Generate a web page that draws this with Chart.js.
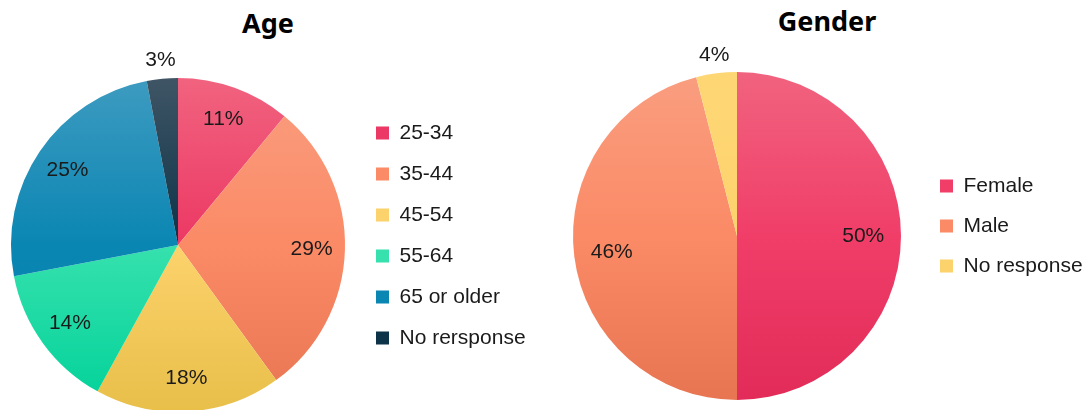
<!DOCTYPE html>
<html>
<head>
<meta charset="utf-8">
<script src="https://cdn.jsdelivr.net/npm/chart.js@4.4.1/dist/chart.umd.min.js"></script>
<style>
  html, body { margin: 0; padding: 0; background: #fff; overflow: hidden; width: 1084px; height: 410px; }
  .panel { position: absolute; top: 0; }
  .title { position: absolute; font: bold 27px "Noto Sans", sans-serif; color: #000; white-space: nowrap; transform: translateX(-50%); }
</style>
</head>
<body>
<div class="title" style="left:268px; top:4px">Age</div>
<div class="title" style="left:827px; top:2px">Gender</div>
<div class="panel" style="left:0; width:540px; height:412px"><canvas id="ageChart"></canvas></div>
<div class="panel" style="left:540px; width:544px; height:410px"><canvas id="genderChart"></canvas></div>
<script>
const ageLabels = ['25-34', '35-44', '45-54', '55-64', '65 or older', 'No rersponse'];
const ageValues = [11, 29, 18, 14, 25, 3];

const genderLabels = ['Female', 'Male', 'No response'];
const genderValues = [50, 46, 4];

// vertical shading for each slice: top / middle / bottom of the pie
const ageShadeTop = ['#f1637f', '#f99e80', '#fed775', '#4de6b9', '#3e9bc0', '#3f5565'];
const ageShadeMid = ['#ec3864', '#fb8a66', '#fcd26c', '#36e1ad', '#0a86b3', '#0d3348'];
const ageShadeBottom = ['#df2a55', '#e87552', '#e8bf49', '#00d199', '#0580ad', '#0a2c40'];

const genderShadeTop = ['#f1637f', '#f99e80', '#fed775'];
const genderShadeMid = ['#f03e69', '#fb8a66', '#fcd26c'];
const genderShadeBottom = ['#e22b58', '#e87552', '#e8bf49'];

const FONT = '"Liberation Sans", Arial, sans-serif';
const TEXT_SIZE = 21;
const BOX = 13;

function shadeFill(tops, mids, bottoms) {
  return function(c) {
    const area = c.chart.chartArea;
    const i = c.dataIndex;
    if (!area) return mids[i];
    const g = c.chart.ctx.createLinearGradient(0, area.top, 0, area.bottom);
    g.addColorStop(0, tops[i]);
    g.addColorStop(0.5, mids[i]);
    g.addColorStop(1, bottoms[i]);
    return g;
  };
}

function legendItems(mids) {
  return function(chart) {
    const items = Chart.overrides.pie.plugins.legend.labels.generateLabels(chart);
    items.forEach((it, i) => { it.fillStyle = mids[i]; it.lineWidth = 0; });
    return items;
  };
}

// width the legend box needs so its labels are not cut off
function legendWidth(labels, rowPad) {
  const c = document.createElement('canvas').getContext('2d');
  c.font = TEXT_SIZE + 'px ' + FONT;
  const textW = Math.max(...labels.map(t => c.measureText(t).width));
  return rowPad + BOX + TEXT_SIZE / 2 + textW + 10;
}

// percent text inside each slice, small ones just outside the rim
const sliceLabels = {
  id: 'sliceLabels',
  afterDatasetsDraw(chart, args, opts) {
    const ctx = chart.ctx;
    const meta = chart.getDatasetMeta(0);
    const values = chart.data.datasets[0].data;
    ctx.save();
    ctx.font = TEXT_SIZE + 'px ' + FONT;
    ctx.fillStyle = '#1a1a1a';
    ctx.textAlign = 'center';
    ctx.textBaseline = 'middle';
    meta.data.forEach((arc, i) => {
      const p = arc.getProps(['x', 'y', 'startAngle', 'endAngle', 'outerRadius'], true);
      const mid = (p.startAngle + p.endAngle) / 2;
      const r = values[i] < 5 ? p.outerRadius + opts.outside : p.outerRadius * opts.inside;
      ctx.fillText(values[i] + '%', p.x + Math.cos(mid) * r, p.y + Math.sin(mid) * r);
    });
    ctx.restore();
  }
};

function pieOptions(pad, legendGap, rowPad, inside) {
  return {
    responsive: true,
    maintainAspectRatio: false,
    animation: false,
    layout: { padding: pad },
    plugins: {
      legend: {
        position: 'right',
        align: 'start',
        title: { display: true, text: '', font: { size: 10 }, padding: { top: legendGap, bottom: 0 } },
        labels: {
          boxWidth: BOX,
          boxHeight: BOX,
          padding: rowPad,
          color: '#1a1a1a',
          font: { family: FONT, size: TEXT_SIZE }
        }
      },
      tooltip: { enabled: false },
      sliceLabels: { inside: inside, outside: 18.5 }
    }
  };
}

// left panel: legend box starts at x=356
const ageRight = 540 - 356 - legendWidth(ageLabels, 20);
const ageOpts = pieOptions({ left: 0, right: ageRight, top: 78, bottom: 0 }, 12.5, 20, 0.8);
ageOpts.plugins.legend.labels.generateLabels = legendItems(ageShadeMid);

new Chart(document.getElementById('ageChart'), {
  type: 'pie',
  data: {
    labels: ageLabels,
    datasets: [{ data: ageValues, backgroundColor: shadeFill(ageShadeTop, ageShadeMid, ageShadeBottom), borderWidth: 0 }]
  },
  options: ageOpts,
  plugins: [sliceLabels]
});

// right panel: legend box starts at x=381
const genderRight = 544 - 381 - legendWidth(genderLabels, 19);
const genderOpts = pieOptions({ left: 13, right: genderRight, top: 72, bottom: 10 }, 72.5, 19, 0.77);
genderOpts.plugins.legend.labels.generateLabels = legendItems(genderShadeMid);

new Chart(document.getElementById('genderChart'), {
  type: 'pie',
  data: {
    labels: genderLabels,
    datasets: [{ data: genderValues, backgroundColor: shadeFill(genderShadeTop, genderShadeMid, genderShadeBottom), borderWidth: 0 }]
  },
  options: genderOpts,
  plugins: [sliceLabels]
});
</script>
</body>
</html>
